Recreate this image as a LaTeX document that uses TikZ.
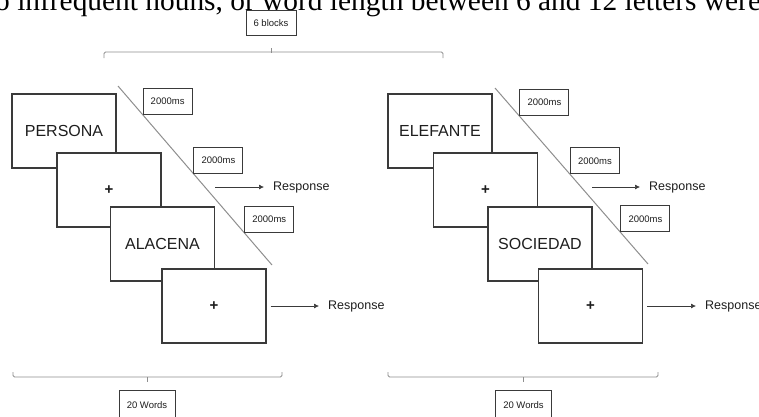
\documentclass[tikz,border=0pt]{standalone}
\usepackage{fontspec}
\setmainfont{Liberation Serif}
\setsansfont{Liberation Sans}
\usepackage{tikz}
\usetikzlibrary{arrows.meta,positioning,calc}
\definecolor{cLine}{HTML}{3A3A3A}
\definecolor{cBrk}{HTML}{8E8E8E}
\definecolor{cTxt}{HTML}{1E1E1E}
\tikzset{
  wordbox/.style={draw=cLine, fill=white, line width=1.2pt, minimum width=104pt,
                  minimum height=74pt, inner sep=0pt, text=cTxt,
                  font=\sffamily\fontsize{16}{18}\selectfont},
  fixbox/.style={wordbox, font=\sffamily\bfseries\fontsize{15}{17}\selectfont},
  msbox/.style={draw=cLine, fill=white, line width=1pt, minimum width=49pt,
                minimum height=26pt, inner sep=0pt, text=cTxt,
                font=\sffamily\fontsize{9.5}{11}\selectfont},
  tagbox/.style={msbox, minimum width=#1, minimum height=25pt},
  brk/.style={draw=cBrk, line width=0.9pt, rounded corners=1.5pt},
  diag/.style={draw=cBrk, line width=1pt},
  rarr/.style={-{Latex[length=5pt,width=5pt]}, line width=0.7pt, draw=cLine,
               shorten >=9pt},
  rlbl/.style={font=\sffamily\fontsize{12.5}{14}\selectfont, text=cTxt,
               inner sep=0pt, anchor=west},
  intro/.style={font=\rmfamily\fontsize{29.4}{32}\selectfont, inner sep=0pt,
                anchor=base west},
}

\begin{document}
\begin{tikzpicture}[x=1pt, y=-1pt]
\useasboundingbox (0,0) rectangle (759,416);
\node[intro] (sent) at (-5,10) {o infrequent nouns, or word length between 6 and 12 letters were};
% block label and its bracket
\node[tagbox=50pt] (blocks) at (271,23) {6 blocks};
\draw[brk] (104,58) |- (443,52) -- (443,58);
\draw[brk] (blocks.south) ++(0,12) -- ++(0,5);

% left sequence
\coordinate (dA) at (118,86);
\coordinate (dB) at (272,265);
\draw[diag] (dA) -- (dB);
\node[wordbox] (w1) at (64,131) {PERSONA};
\node[fixbox] (p1) at (109,190) {+};
\node[wordbox] (w2) at (162.5,244) {ALACENA};
\node[fixbox] (p2) at (214,306) {+};
\node[msbox, anchor=south west] (t1) at ($(dA)!0.16!(dB)$) {2000ms};
\node[msbox, anchor=south west] (t2) at ($(dA)!0.49!(dB)$) {2000ms};
\node[msbox, anchor=south west] (t3) at ($(dA)!0.82!(dB)$) {2000ms};
\coordinate (r1s) at (215,187);
\node[rlbl] (resp1) at (273,187) {Response};
\node[rlbl] (resp2) at (328,306) {Response};
\draw[rarr] (r1s) -- (resp1.west);
\draw[rarr, shorten <=4pt] (p2.east) -- (resp2.west);
\node[tagbox=56pt, minimum height=30pt] (words1) at (147,405) {20 Words};
\draw[brk] (13,372) |- (282,377) -- (282,372);
\draw[brk] (words1.north) ++(0,-8) -- ++(0,-5);

% right sequence
\coordinate (dC) at (495,88);
\coordinate (dD) at (648,264);
\draw[diag] (dC) -- (dD);
\node[wordbox] (w3) at (440,131) {ELEFANTE};
\node[fixbox] (p3) at (485.5,190) {+};
\node[wordbox] (w4) at (540,244) {SOCIEDAD};
\node[fixbox] (p4) at (590.5,306) {+};
\node[msbox, anchor=south west] (t4) at ($(dC)!0.16!(dD)$) {2000ms};
\node[msbox, anchor=south west] (t5) at ($(dC)!0.49!(dD)$) {2000ms};
\node[msbox, anchor=south west] (t6) at ($(dC)!0.82!(dD)$) {2000ms};
\coordinate (r3s) at (592,187);
\node[rlbl] (resp3) at (649,187) {Response};
\node[rlbl] (resp4) at (705,306) {Response};
\draw[rarr] (r3s) -- (resp3.west);
\draw[rarr, shorten <=4pt] (p4.east) -- (resp4.west);
\node[tagbox=56pt, minimum height=30pt] (words2) at (523.5,405) {20 Words};
\draw[brk] (388,372) |- (658,377) -- (658,372);
\draw[brk] (words2.north) ++(0,-8) -- ++(0,-5);
\end{tikzpicture}
\end{document}
